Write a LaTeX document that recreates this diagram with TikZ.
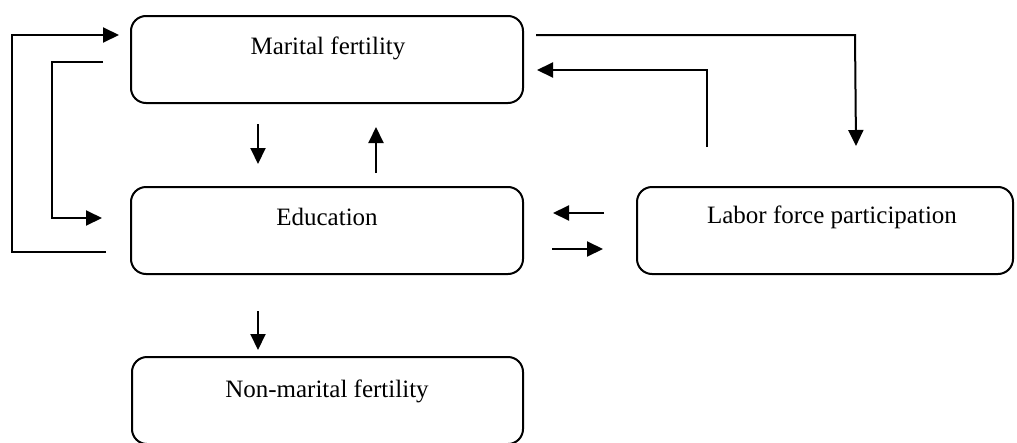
\documentclass[tikz,border=0pt]{standalone}
\usepackage{fontspec}
\setmainfont{Liberation Serif}
\usetikzlibrary{arrows.meta}
\begin{document}
\begin{tikzpicture}[x=1pt,y=-1pt,
  box/.style={draw, line width=2pt, rounded corners=15pt, inner sep=0pt, minimum width=392pt, minimum height=87pt},
  lbl/.style={inner sep=0pt, font=\fontsize{25}{29}\selectfont},
  conn/.style={line width=2pt},
  arr/.style={conn, -{Triangle[length=16pt,width=15pt]}}]
\useasboundingbox (0,0) rectangle (1017,442);
% boxes
\node[box] (mf) at (327,59.5) {};
\node[lbl] (mft) at (328,48) {Marital fertility};
\node[box] (edu) at (327,230.5) {};
\node[lbl] (edut) at (327,217) {Education};
\node[box, minimum width=376pt] (lfp) at (825,230.5) {};
\node[lbl] (lfpt) at (832,217) {Labor force participation};
\node[box, minimum width=391pt] (nmf) at (327.5,400.5) {};
\node[lbl] (nmft) at (327,391) {Non-marital fertility};
% connector end points
\coordinate (a1) at (106,252); \coordinate (a2) at (119,35);
\coordinate (b1) at (103,62);  \coordinate (b2) at (102,218);
\coordinate (c1) at (536,35);  \coordinate (c2) at (856,146);
\coordinate (d1) at (707,147); \coordinate (d2) at (537,70);
\coordinate (e1) at (258,124); \coordinate (e2) at (258,164);
\coordinate (f1) at (376,173); \coordinate (f2) at (376,127);
\coordinate (g1) at (604,213); \coordinate (g2) at (553,213);
\coordinate (h1) at (552,249); \coordinate (h2) at (603,249);
\coordinate (i1) at (258,311); \coordinate (i2) at (258,350);
% connectors
\draw[arr] (a1) -- (12,252) -- (12,35) -- (a2);
\draw[arr] (b1) -- (52,62) -- (52,218) -- (b2);
\draw[arr] (c1) -- (855,35) -- (c2);
\draw[arr] (d1) -- (707,70) -- (d2);
\draw[arr] (e1) -- (e2);
\draw[arr] (f1) -- (f2);
\draw[arr] (g1) -- (g2);
\draw[arr] (h1) -- (h2);
\draw[arr] (i1) -- (i2);
\end{tikzpicture}
\end{document}
